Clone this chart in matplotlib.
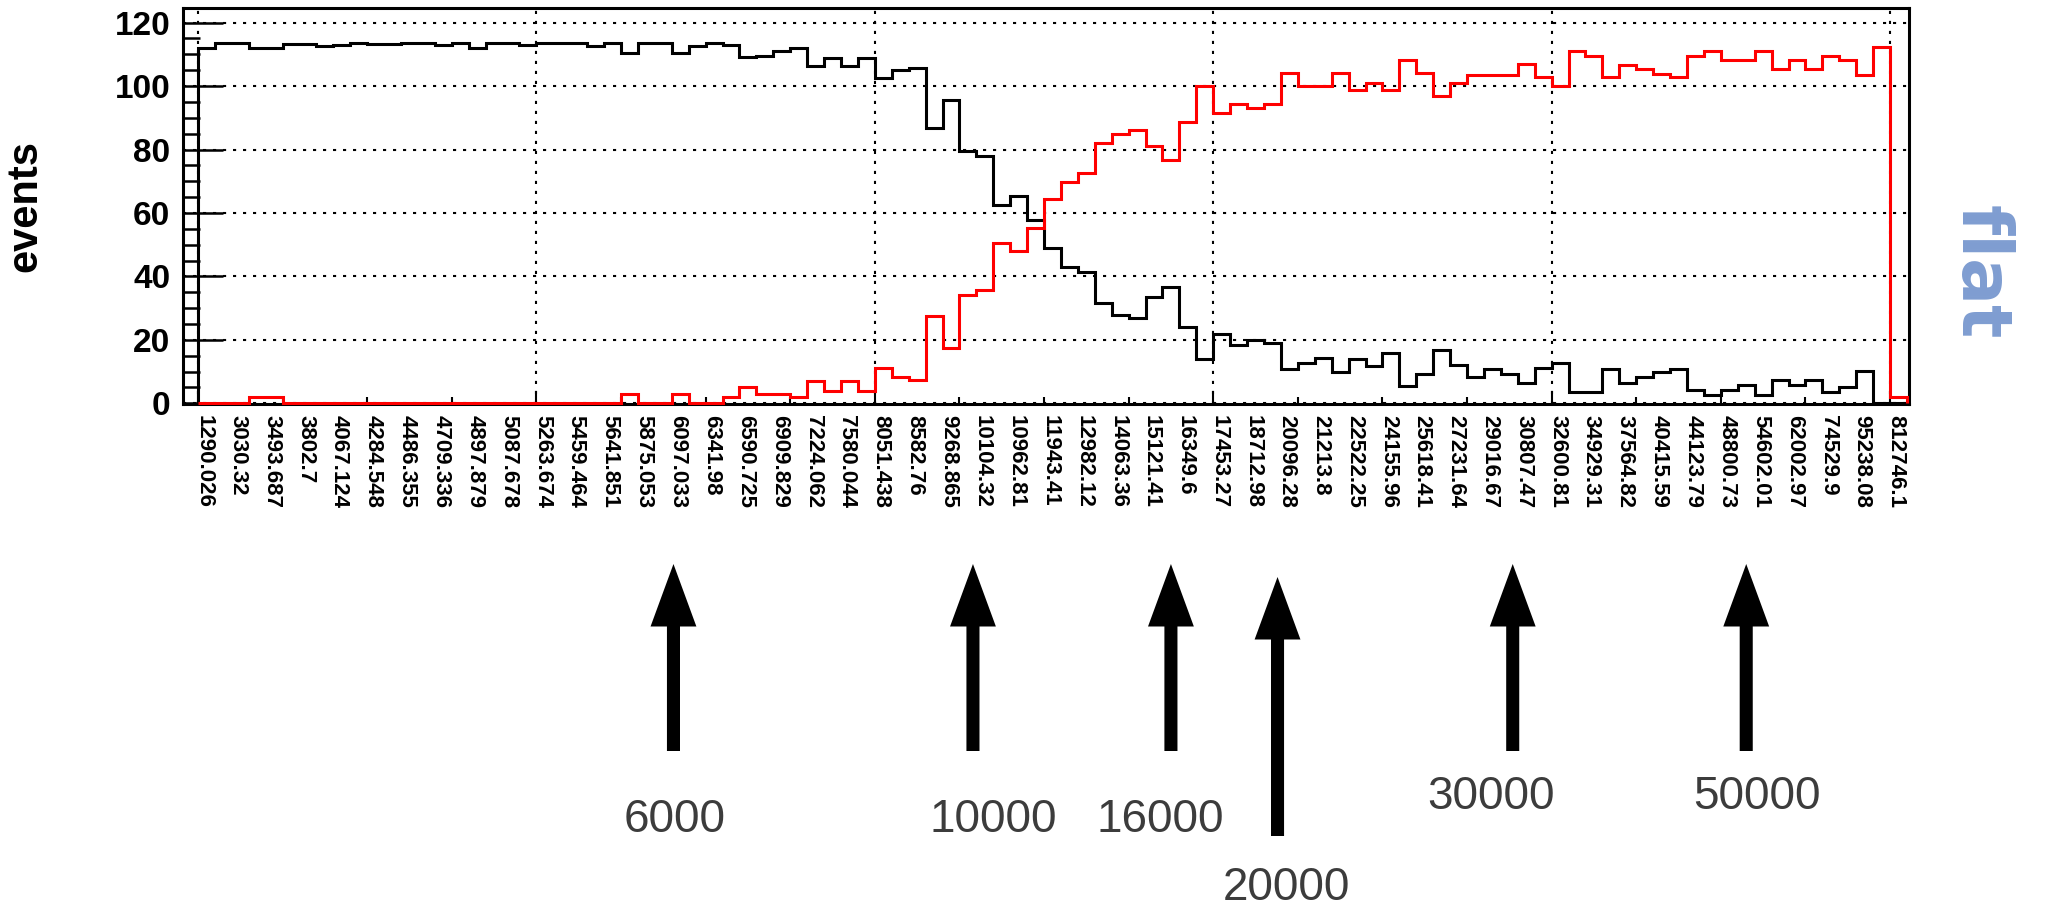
import numpy as np
import matplotlib
matplotlib.use("Agg")
import matplotlib.pyplot as plt
from matplotlib.patches import FancyArrowPatch, ArrowStyle
from matplotlib.transforms import blended_transform_factory

# ---------------- data ----------------
black_counts = [
    112, 113.6, 113.6, 112, 112, 113.2, 113.2, 112.5, 113, 113.6,
    113.2, 113.2, 113.6, 113.6, 113, 113.6, 112, 113.6, 113.6, 113,
    113.6, 113.6, 113.6, 112.5, 113.6, 110.4, 113.6, 113.6, 110.4, 112.5,
    113.6, 112.9, 109.3, 109.6, 110.9, 112, 106.2, 108.8, 106.2, 108.8,
    102.5, 105.1, 105.7, 86.9, 95.7, 79.4, 77.8, 62.6, 65.2, 57.8,
    48.9, 43.1, 41.5, 31.7, 27.9, 26.8, 33.6, 36.8, 24.2, 13.9,
    21.8, 18.4, 20, 18.9, 10.7, 12.6, 14.2, 10, 14.1, 11.8,
    15.8, 5.5, 9.2, 16.8, 12.1, 8.4, 10.7, 9.2, 6.5, 11,
    12.6, 3.7, 3.7, 10.7, 6.5, 8.4, 10, 10.7, 4.2, 2.6,
    4.2, 5.8, 2.6, 7.4, 5.8, 7.4, 3.7, 5, 10.2, 0,
    0,
]
red_counts = [
    0, 0, 0, 2, 2, 0, 0, 0, 0, 0,
    0, 0, 0, 0, 0, 0, 0, 0, 0, 0,
    0, 0, 0, 0, 0, 3, 0, 0, 3, 0,
    0, 2, 5, 3, 3, 2, 7, 4, 7, 4,
    11, 8.4, 7.4, 27.5, 17.5, 34.2, 35.7, 50.5, 48.1, 55.2,
    64.4, 69.9, 72.6, 82, 84.9, 86, 81.2, 76.8, 88.6, 100.1,
    91.5, 94.4, 93, 94.4, 104.1, 99.9, 99.9, 104.1, 98.8, 101.1,
    98.8, 108.3, 104.1, 96.9, 101.1, 103.6, 103.6, 103.6, 107, 102.8,
    99.9, 111.1, 109.6, 102.8, 106.7, 105.5, 103.9, 102.8, 109.6, 111.1,
    108.3, 108.3, 111.1, 105.4, 108.3, 105.4, 109.6, 108.3, 103.6, 112.2,
    2,
]
bin_labels = [
    "1290.026", "3030.32", "3493.687", "3802.7", "4067.124", "4284.548",
    "4486.355", "4709.336", "4897.879", "5087.678", "5263.674", "5459.464",
    "5641.851", "5875.053", "6097.033", "6341.98", "6590.725", "6909.829",
    "7224.062", "7580.044", "8051.438", "8582.76", "9268.865", "10104.32",
    "10962.81", "11943.41", "12982.12", "14063.36", "15121.41", "16349.6",
    "17453.27", "18712.98", "20096.28", "21213.8", "22522.25", "24155.96",
    "25618.41", "27231.64", "29016.67", "30807.47", "32600.81", "34929.31",
    "37564.82", "40415.59", "44123.79", "48800.73", "54602.01", "62002.97",
    "74529.9", "95238.08", "812746.1",
]
y_ticks = [0, 20, 40, 60, 80, 100, 120]
arrow_texts = ["6000", "10000", "16000", "20000", "30000", "50000"]

# ---------------- layout / style ----------------
W, H = 2048, 908
fig = plt.figure(figsize=(W / 100, H / 100), dpi=100)
plt.rcParams['font.family'] = ['Liberation Sans', 'DejaVu Sans']

ax_left, ax_right, ax_top, ax_bot = 183, 1909, 8.3, 404
ax = fig.add_axes([ax_left / W, 1 - ax_bot / H, (ax_right - ax_left) / W, (ax_bot - ax_top) / H])

edges = np.arange(len(black_counts) + 1)
ax.stairs(black_counts, edges, baseline=0, color='black', lw=2.2, zorder=3, clip_on=False)
ax.stairs(red_counts, edges, baseline=0, color='#ff0000', lw=2.2, zorder=4, clip_on=False)

ax.set_xlim(-0.887, 101.12)
ax.set_ylim(-0.2, 124.5)

for s in ax.spines.values():
    s.set_linewidth(2.2)

ax.set_xticks(np.arange(0, 101, 20))
ax.set_xticks(np.arange(0, 101, 5), minor=True)
ax.set_yticks(y_ticks)
ax.set_yticks(np.arange(0, 125, 5), minor=True)
ax.tick_params(axis='x', which='major', direction='in', length=9.5, width=1.5, labelbottom=False)
ax.tick_params(axis='x', which='minor', direction='in', length=5, width=1.5)
ax.tick_params(axis='y', which='major', direction='in', length=29, width=1.8, pad=9,
               labelsize=24)
ax.tick_params(axis='y', which='minor', direction='in', length=12, width=1.8)
for lab in ax.get_yticklabels():
    lab.set_fontweight('bold')
ax.grid(which='major', color='black', linestyle=(0, (1.5, 3.3)), lw=1.5)
ax.set_axisbelow(True)

# bin labels (alphanumeric axis, every second bin)
trans_lab = blended_transform_factory(ax.transData, ax.transAxes)
for k, lab in enumerate(bin_labels):
    ax.text(2 * k + 0.35, -11 / (ax_bot - ax_top), lab, transform=trans_lab,
            rotation=270, ha='center', va='top', fontsize=16, fontweight='bold',
            color='black')

# axis title and side text
fig.text(25 / W, 1 - 206 / H, 'events', rotation=90, fontsize=30, fontweight='bold',
         ha='center', va='center')
fig.text(1980 / W, 1 - 272 / H, 'flat', rotation=270, fontsize=50, fontweight='bold',
         color='#7f9dd1', family='DejaVu Sans', ha='center', va='center')

# arrows marking thresholds
arrow_x = [28.1, 45.8, 57.5, 63.8, 77.7, 91.5]
arrow_tip = [564, 564, 564, 577, 564, 564]
arrow_tail = [751, 751, 751, 836, 751, 751]
text_pos = [(675, 820), (993, 820), (1160, 820), (1286, 888), (1491, 797), (1757, 797)]
trans_arr = blended_transform_factory(ax.transData, fig.transFigure)
style = ArrowStyle.Simple(head_length=45, head_width=33, tail_width=9.4)
for x, tip, tail in zip(arrow_x, arrow_tip, arrow_tail):
    p = FancyArrowPatch((x, 1 - tail / H), (x, 1 - tip / H), transform=trans_arr,
                        arrowstyle=style, mutation_scale=1, color='black', lw=0,
                        shrinkA=0, shrinkB=0)
    fig.add_artist(p)
for t, (px, py) in zip(arrow_texts, text_pos):
    fig.text(px / W, 1 - py / H, t, fontsize=33, color='#3c3c3c', ha='center', va='center')

fig.savefig('out.png', dpi=100)
